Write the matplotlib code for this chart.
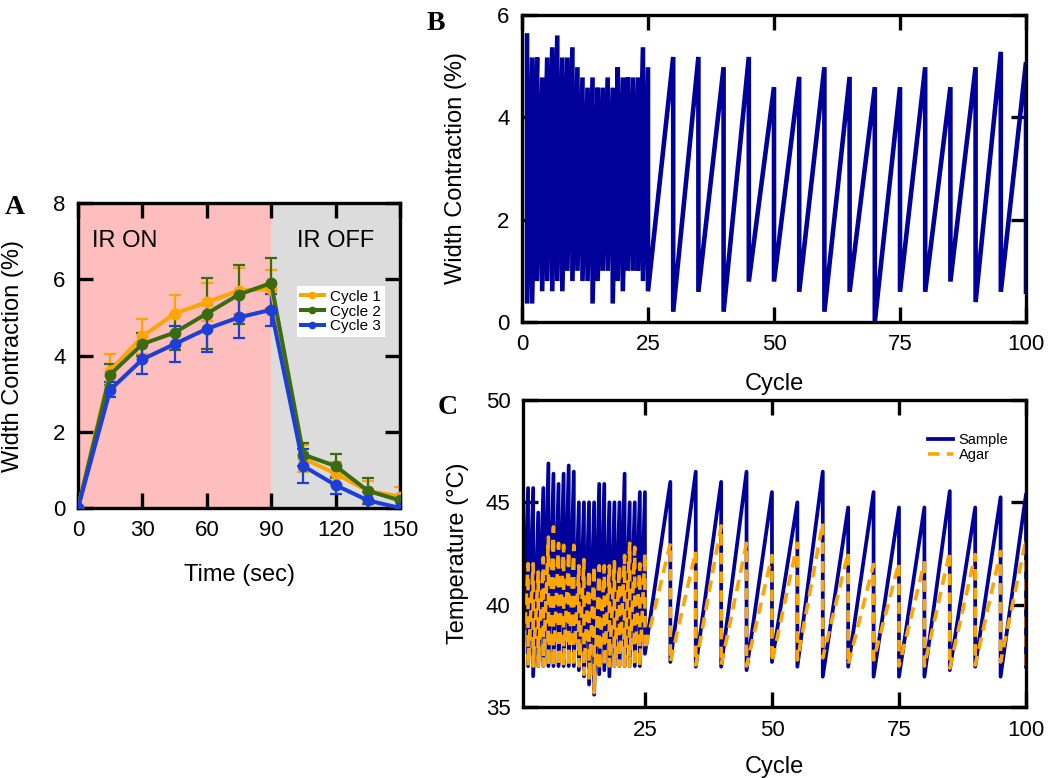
import numpy as np
import matplotlib.pyplot as plt

plt.rcParams['font.family'] = ['Liberation Sans', 'DejaVu Sans']

# ---- panel A: width contraction vs time, 3 cycles ----
time_s = [0, 15, 30, 45, 60, 75, 90, 105, 120, 135, 150]
cycle1 = [0, 3.6, 4.5, 5.1, 5.4, 5.7, 5.75, 1.3, 0.9, 0.45, 0.3]
cycle1_err = [0, 0.45, 0.45, 0.5, 0.5, 0.6, 0.5, 0.35, 0.3, 0.25, 0.25]
cycle2 = [0, 3.5, 4.3, 4.6, 5.1, 5.6, 5.9, 1.4, 1.1, 0.45, 0.2]
cycle2_err = [0, 0.28, 0.3, 0.45, 0.93, 0.78, 0.67, 0.3, 0.32, 0.35, 0.15]
cycle3 = [0, 3.1, 3.9, 4.3, 4.7, 5.0, 5.2, 1.1, 0.6, 0.2, 0.0]
cycle3_err = [0, 0.2, 0.38, 0.48, 0.62, 0.55, 0.42, 0.44, 0.22, 0.22, 0.0]

# ---- panel B: width contraction over 100 cycles (peak / trough per sample) ----
b_cycle = list(range(1, 26)) + list(range(30, 101, 5))
b_peak = [5.6, 5.17, 5.17, 4.78, 5.17, 5.37, 5.6, 5.17, 5.17, 5.37, 4.98, 4.78, 4.58,
          4.78, 4.58, 4.58, 4.78, 4.58, 4.98, 4.78, 4.78, 4.78, 4.78, 5.37, 4.98,
          5.18, 5.18, 4.98, 5.18, 4.59, 4.79, 4.98, 4.79, 4.59, 4.59, 4.98, 4.59, 4.98, 5.28, 5.08]
b_trough = [0.36, 0.36, 0.8, 0.6, 0.8, 0.6, 0.8, 0.6, 1.0, 0.8, 1.0, 0.8, 0.8,
            0.36, 0.8, 1.0, 1.0, 0.36, 0.8, 0.6, 1.0, 1.0, 1.0, 0.8, 0.6,
            0.2, 0.59, 0.2, 0.79, 0.79, 0.59, 0.2, 0.59, 0.0, 0.59, 0.59, 0.79, 0.39, 0.59, 0.59]

# ---- panel C: temperature of sample and agar ----
c_cycle = list(range(1, 26)) + list(range(30, 101, 5))
sample_peak = [47.9, 45.7, 45.7, 44.5, 45.7, 46.9, 46.4, 45.9, 46.4, 46.8, 46.5, 45.0, 45.0,
               45.0, 45.0, 45.9, 45.9, 45.0, 45.0, 45.0, 46.4, 45.0, 45.0, 45.5, 45.5,
               46.0, 46.5, 46.0, 46.5, 45.5, 45.0, 46.5, 44.75, 45.5, 44.75, 44.75, 45.55, 44.75, 45.25, 45.4]
sample_trough = [37.5, 37.0, 36.5, 37.0, 37.0, 37.0, 37.0, 37.0, 37.0, 37.0, 37.0, 36.8, 36.5,
                 36.1, 35.6, 36.6, 36.8, 36.5, 37.0, 37.0, 37.0, 37.0, 37.0, 37.0, 37.6,
                 37.2, 36.97, 36.97, 36.8, 37.2, 36.97, 36.48, 36.97, 36.48, 36.48, 36.48, 36.8, 36.97, 36.48, 36.97]
agar_peak = [44.7, 42.0, 42.0, 41.6, 42.3, 43.3, 43.8, 43.0, 42.9, 42.6, 42.9, 41.9, 42.2,
             41.7, 41.9, 41.9, 41.9, 41.9, 42.1, 41.9, 42.4, 43.0, 42.8, 42.0, 42.5,
             43.0, 42.6, 43.85, 43.0, 42.4, 43.0, 44.0, 42.55, 41.97, 42.05, 42.05, 42.6, 42.45, 42.6, 43.2]
agar_trough = [37.3, 37.0, 37.0, 37.0, 37.0, 37.0, 37.0, 37.0, 37.0, 37.0, 37.0, 37.0, 36.6,
               36.3, 35.7, 36.8, 37.0, 37.0, 37.0, 37.0, 37.0, 37.0, 37.0, 37.0, 37.8,
               37.2, 37.05, 37.05, 37.0, 37.2, 37.3, 37.4, 37.05, 37.3, 37.0, 37.0, 36.9, 37.05, 37.2, 37.0]

ORANGE = '#ffa500'
GREEN = '#3a6b10'
BLUE = '#1c3fd8'
NAVY = '#00009a'


def zigzag(xs, hi, lo):
    # each sample: peak then vertical drop to trough at the same cycle
    px, py = [], []
    for x, a, b in zip(xs, hi, lo):
        px += [x, x]
        py += [a, b]
    return px, py


def style(ax):
    ax.tick_params(direction='in', length=11, width=2.4, top=True, right=True,
                   labelsize=16, pad=9)
    for s in ax.spines.values():
        s.set_linewidth(2.4)


fig = plt.figure(figsize=(10.5, 7.78), dpi=100)
W, H = 1050, 778


def add_axes(l, t, r, b):
    return fig.add_axes([l / W, 1 - b / H, (r - l) / W, (b - t) / H])


# panel A
axA = add_axes(78, 203, 400, 508)
axA.axvspan(0, 90, color='#ffbebe', lw=0, zorder=0)
axA.axvspan(90, 150, color='#dcdcdc', lw=0, zorder=0)
for y, e, c, lab in [(cycle1, cycle1_err, ORANGE, 'Cycle 1'),
                     (cycle2, cycle2_err, GREEN, 'Cycle 2'),
                     (cycle3, cycle3_err, BLUE, 'Cycle 3')]:
    axA.errorbar(time_s, y, yerr=e, fmt='none', ecolor=c, elinewidth=1.6,
                 capsize=4.5, capthick=1.6, zorder=2)
    axA.plot(time_s, y, '-o', color=c, lw=2.9, ms=7.5, label=lab, zorder=3)
axA.set_xlim(0, 150)
axA.set_ylim(0, 8)
axA.set_xticks([0, 30, 60, 90, 120, 150])
axA.set_yticks([0, 2, 4, 6, 8])
axA.text(6.4, 7.0, 'IR ON', fontsize=17, va='center')
axA.text(102, 7.0, 'IR OFF', fontsize=17, va='center')
axA.set_xlabel('Time (sec)', fontsize=17)
axA.set_ylabel('Width Contraction (%)', fontsize=17)
axA.xaxis.set_label_coords(0.5, -0.185)
axA.yaxis.set_label_coords(-0.168, 0.5)
legA = axA.legend(loc='upper left', bbox_to_anchor=(0.68, 0.728), fontsize=11,
                  frameon=True, fancybox=False, edgecolor='none', framealpha=1,
                  borderpad=0.25, labelspacing=0.05, handlelength=1.5,
                  handletextpad=0.4, borderaxespad=0, markerscale=0.6)
style(axA)

# panel B
axB = add_axes(522, 15, 1026, 322)
bx, by = zigzag(b_cycle, b_peak, b_trough)
axB.plot(bx, by, color=NAVY, lw=3.3, solid_joinstyle='miter')
axB.set_xlim(0, 100)
axB.set_ylim(0, 6)
axB.set_xticks([0, 25, 50, 75, 100])
axB.set_yticks([0, 2, 4, 6])
axB.set_xlabel('Cycle', fontsize=17)
axB.set_ylabel('Width Contraction (%)', fontsize=17)
axB.xaxis.set_label_coords(0.5, -0.166)
axB.yaxis.set_label_coords(-0.109, 0.5)
style(axB)

# panel C
axC = add_axes(523, 400, 1026, 707)
sx, sy = zigzag(c_cycle, sample_peak, sample_trough)
ax_, ay = zigzag(c_cycle, agar_peak, agar_trough)
axC.plot(sx, sy, color=NAVY, lw=2.7, label='Sample')
axC.plot(ax_, ay, color=ORANGE, lw=2.6, dashes=(3.2, 2.0), label='Agar')
axC.set_xlim(1, 100)
axC.set_ylim(35, 50)
axC.set_xticks([25, 50, 75, 100])
axC.set_yticks([35, 40, 45, 50])
axC.set_xlabel('Cycle', fontsize=17)
axC.set_ylabel('Temperature (°C)', fontsize=17)
axC.xaxis.set_label_coords(0.5, -0.158)
axC.yaxis.set_label_coords(-0.107, 0.5)
axC.legend(loc='upper left', bbox_to_anchor=((928 - 523) / 503, (707 - 433) / 307),
           fontsize=10.5, frameon=False, borderpad=0, borderaxespad=0,
           labelspacing=0.05, handlelength=1.7, handletextpad=0.4)
style(axC)

# panel letters
for lab, x, y in [('A', 15, 208), ('B', 436, 24), ('C', 448, 408)]:
    fig.text(x / W, 1 - y / H, lab, fontsize=20, family='Liberation Serif',
             fontweight='bold', ha='center', va='center')

fig.savefig('out.png', dpi=100)
